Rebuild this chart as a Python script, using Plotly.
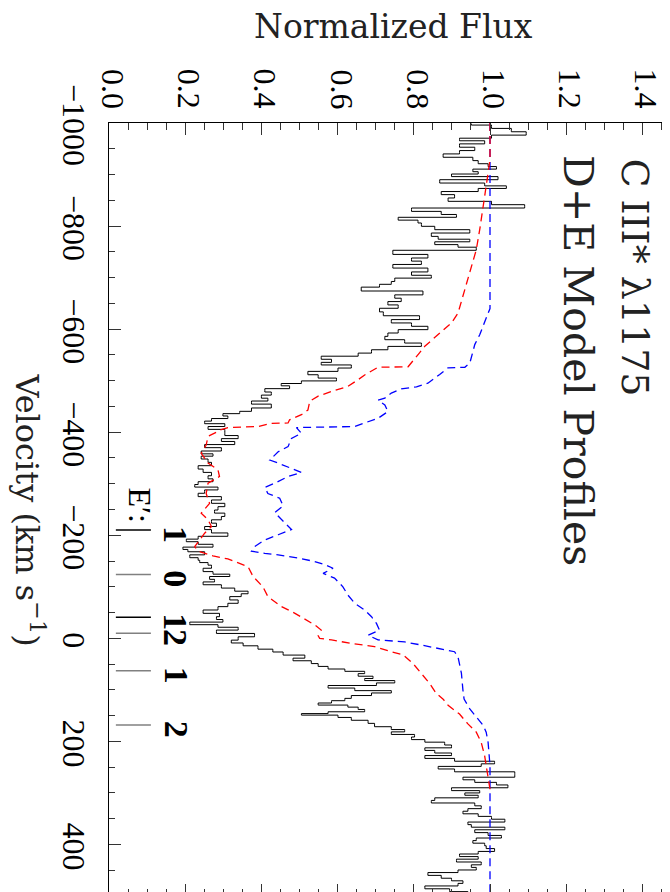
import plotly.graph_objects as go

# ---------------- data ----------------
spec_vel = [-999, -993, -986, -980, -973, -968, -963, -956, -950, -943, -937, -930, -924, -918, -913, -908, -903, -899,
            -893, -887, -880, -876, -870, -864, -858, -851, -845, -838, -832, -825, -820, -814, -809, -803, -796, -790,
            -783, -777, -772, -767, -761, -757, -749, -741, -735, -729, -722, -715, -707, -702, -696, -689, -685, -678,
            -670, -663, -657, -650, -644, -637, -630, -622, -615, -609, -602, -596, -589, -583, -576, -570, -563, -557,
            -550, -545, -538, -533, -528, -521, -515, -508, -502, -497, -492, -488, -481, -475, -469, -463, -458, -451,
            -443, -438, -434, -429, -424, -419, -414, -408, -403, -397, -390, -385, -379, -373, -367, -360, -356, -351,
            -345, -338, -332, -325, -319, -312, -307, -301, -296, -291, -285, -278, -272, -265, -259, -252, -246, -240,
            -233, -227, -220, -214, -208, -201, -195, -190, -185, -180, -174, -171, -165, -159, -154, -149, -145, -139,
            -133, -126, -123, -117, -112, -107, -101, -94, -89, -84, -78, -71, -65, -58, -52, -45, -39, -34, -29, -24,
            -19, -13, -6, 0, 7, 11, 18, 24, 29, 36, 41, 46, 52, 57, 62, 66, 71, 76, 80, 84, 89, 94, 99, 104, 108, 114,
            119, 123, 128, 131, 136, 140, 145, 147, 151, 156, 162, 168, 175, 179, 184, 189, 194, 199, 204, 210, 215,
            220, 225, 230, 236, 241, 246, 251, 256, 262, 267, 272, 277, 282, 287, 293, 298, 302, 307, 312, 317, 322,
            328, 333, 338, 343, 348, 354, 359, 364, 369, 374, 380, 385, 390, 395, 400, 405, 411, 416, 421, 426, 431,
            437, 442, 447, 452, 457, 463, 468, 473, 478, 483, 489, 494, 499]
spec_flux = [0.951, 1.004, 1.056, 1.095, 1.004, 0.920, 0.986, 0.920, 0.960, 0.920, 0.877, 0.955, 0.969, 0.995, 1.017,
             0.955, 0.969, 0.899, 1.021, 0.868, 0.986, 1.043, 0.969, 0.872, 0.907, 0.890, 1.004, 1.091, 0.794, 0.872,
             0.912, 0.759, 0.811, 0.820, 0.855, 0.947, 0.846, 0.864, 0.947, 0.855, 0.916, 0.964, 0.745, 0.837, 0.794,
             0.820, 0.745, 0.837, 0.794, 0.846, 0.750, 0.741, 0.710, 0.662, 0.824, 0.750, 0.767, 0.732, 0.759, 0.710,
             0.720, 0.815, 0.741, 0.794, 0.837, 0.759, 0.732, 0.724, 0.776, 0.820, 0.732, 0.689, 0.654, 0.557, 0.584,
             0.557, 0.636, 0.601, 0.522, 0.549, 0.597, 0.505, 0.452, 0.474, 0.409, 0.426, 0.400, 0.417, 0.374, 0.426,
             0.374, 0.343, 0.299, 0.312, 0.269, 0.251, 0.304, 0.260, 0.304, 0.304, 0.339, 0.295, 0.330, 0.251, 0.295,
             0.242, 0.273, 0.242, 0.260, 0.269, 0.234, 0.247, 0.269, 0.260, 0.273, 0.234, 0.225, 0.286, 0.251, 0.234,
             0.295, 0.269, 0.304, 0.286, 0.277, 0.304, 0.295, 0.269, 0.282, 0.251, 0.269, 0.312, 0.234, 0.203, 0.234,
             0.273, 0.194, 0.207, 0.251, 0.212, 0.234, 0.238, 0.260, 0.269, 0.247, 0.273, 0.317, 0.264, 0.277, 0.247,
             0.295, 0.330, 0.365, 0.347, 0.317, 0.339, 0.312, 0.286, 0.247, 0.290, 0.282, 0.299, 0.212, 0.286, 0.339,
             0.282, 0.382, 0.339, 0.321, 0.352, 0.391, 0.430, 0.457, 0.514, 0.483, 0.531, 0.549, 0.575, 0.619, 0.671,
             0.654, 0.693, 0.671, 0.750, 0.702, 0.575, 0.645, 0.741, 0.689, 0.636, 0.619, 0.584, 0.549, 0.627, 0.654,
             0.671, 0.575, 0.505, 0.601, 0.636, 0.680, 0.697, 0.741, 0.776, 0.741, 0.802, 0.794, 0.829, 0.881, 0.899,
             0.829, 0.855, 0.899, 0.829, 0.907, 1.012, 0.977, 0.864, 0.907, 1.065, 1.065, 0.929, 0.960, 1.017, 1.047,
             0.899, 0.973, 0.934, 0.969, 0.855, 0.846, 0.960, 0.977, 0.942, 0.929, 0.969, 1.004, 1.039, 0.942, 0.951,
             1.039, 0.960, 0.995, 1.030, 0.964, 0.955, 0.986, 0.990, 1.012, 0.969, 0.920, 0.969, 0.912, 0.977, 0.951,
             0.964, 0.916, 0.837, 0.872, 0.899, 0.929, 0.916, 0.829, 0.894, 0.942, 1.004]

red_vel = [-1000, -930, -903, -877, -832, -793, -754, -722, -676, -631, -612, -598, -583, -567, -554, -534, -527, -526,
           -511, -502, -489, -479, -470, -460, -443, -434, -424, -418, -417, -411, -409, -404, -400, -392, -375, -359,
           -340, -327, -314, -301, -281, -262, -246, -243, -230, -217, -204, -191, -178, -169, -160, -154, -146, -139,
           -120, -100, -81, -62, -49, -36, -26, -16, -5, 0, 3, 10, 16, 26, 32, 49, 68, 88, 107, 118, 130, 147, 166,
           182, 202, 228, 247, 273, 293]
red_flux = [1.0, 1.0, 0.995, 0.99, 0.982, 0.973, 0.964, 0.951, 0.934, 0.916, 0.899, 0.877, 0.855, 0.829, 0.815, 0.794,
            0.785, 0.706, 0.671, 0.654, 0.627, 0.584, 0.549, 0.527, 0.522, 0.505, 0.474, 0.470, 0.426, 0.391, 0.312,
            0.290, 0.282, 0.260, 0.255, 0.242, 0.260, 0.286, 0.290, 0.260, 0.255, 0.264, 0.247, 0.242, 0.260, 0.269,
            0.251, 0.238, 0.225, 0.234, 0.273, 0.312, 0.343, 0.365, 0.378, 0.404, 0.417, 0.452, 0.487, 0.518, 0.540,
            0.557, 0.549, 0.553, 0.584, 0.636, 0.697, 0.741, 0.772, 0.798, 0.820, 0.842, 0.859, 0.877, 0.890, 0.920,
            0.942, 0.964, 0.977, 0.986, 0.990, 0.995, 1.0]

blue_vel = [-1000, -640, -631, -589, -570, -547, -534, -526, -525, -512, -495, -488, -484, -476, -466, -462, -453, -440,
            -427, -418, -411, -409, -398, -388, -372, -362, -346, -340, -330, -322, -314, -301, -293, -281, -272, -257,
            -244, -227, -211, -201, -191, -178, -169, -165, -162, -156, -149, -143, -136, -126, -117, -100, -84, -68,
            -55, -42, -29, -16, -6, 3, 7, 13, 23, 26, 36, 68, 101, 118, 137, 156, 169, 182, 202, 247, 500]
blue_flux = [1.0, 1.0, 0.995, 0.973, 0.960, 0.951, 0.947, 0.934, 0.890, 0.868, 0.837, 0.807, 0.767, 0.741, 0.724, 0.706,
             0.724, 0.732, 0.706, 0.671, 0.645, 0.492, 0.505, 0.479, 0.470, 0.444, 0.422, 0.444, 0.479, 0.505, 0.470,
             0.435, 0.409, 0.417, 0.448, 0.457, 0.435, 0.457, 0.479, 0.444, 0.409, 0.382, 0.374, 0.409, 0.444, 0.496,
             0.540, 0.566, 0.588, 0.562, 0.592, 0.614, 0.627, 0.645, 0.671, 0.689, 0.702, 0.710, 0.680, 0.706, 0.776,
             0.820, 0.881, 0.907, 0.916, 0.925, 0.929, 0.932, 0.947, 0.969, 0.982, 0.990, 0.995, 1.0, 1.0]

comp_vel = [-210, -124, -41, -10, 63, 168]
comp_label = ["1", "0", "1", "2", "1", "2"]
comp_color = ["#000000", "#808080", "#000000", "#808080", "#808080", "#808080"]

flux_ticks = [0.0, 0.2, 0.4, 0.6, 0.8, 1.0, 1.2, 1.4]
flux_ticktext = ["0.0", "0.2", "0.4", "0.6", "0.8", "1.0", "1.2", "1.4"]
vel_ticks = [-1000, -800, -600, -400, -200, 0, 200, 400]
vel_ticktext = ["\u22121000", "\u2212800", "\u2212600", "\u2212400", "\u2212200", "0", "200", "400"]

# ---------------- figure ----------------
W, H = 670, 892
L, R, T, B = 101, 0, 115, 4
pw, ph = W - L - R, H - T - B

def px_x(p):
    return (p - L) / pw

def px_y(p):
    return (H - B - p) / ph

fig = go.Figure()
fig.add_trace(go.Scatter(x=spec_flux, y=spec_vel, mode="lines", line=dict(color="black", width=1, shape="vhv"),
                         hoverinfo="skip"))
fig.add_trace(go.Scatter(x=blue_flux, y=blue_vel, mode="lines", line=dict(color="#0000ff", width=1.3, dash="8px,5px"),
                         hoverinfo="skip"))
fig.add_trace(go.Scatter(x=red_flux, y=red_vel, mode="lines", line=dict(color="#ff0000", width=1.3, dash="8px,5px"),
                         hoverinfo="skip"))

serif = "Liberation Serif"
wide = "DejaVu Serif"
annos = []
for v, t in zip(flux_ticks, flux_ticktext):
    annos.append(dict(x=v, y=px_y(81), xref="x", yref="paper", text=t, textangle=90, showarrow=False,
                      xanchor="center", yanchor="middle", xshift=4, font=dict(family=serif, size=32, color="black")))
for v, t in zip(vel_ticks, vel_ticktext):
    annos.append(dict(x=px_x(66), y=v, xref="paper", yref="y", text=t, textangle=90, showarrow=False,
                      xanchor="center", yanchor="middle", yshift=-2, font=dict(family=serif, size=32, color="black")))

annos.append(dict(x=0.5, y=px_y(19), xref="paper", yref="paper", text="Normalized Flux", showarrow=False,
                  xanchor="center", yanchor="middle", font=dict(family=wide, size=33, color="#222")))
annos.append(dict(x=px_x(22), y=0.5, xref="paper", yref="paper", text="Velocity (km s<sup>\u22121</sup>)",
                  textangle=90, showarrow=False, xanchor="center", yanchor="middle",
                  font=dict(family=wide, size=32, color="#222")))
annos.append(dict(x=1.381, y=-700, xref="x", yref="y", text="C III* \u03bb1175", textangle=90, showarrow=False,
                  xanchor="center", yanchor="middle", font=dict(family=wide, size=38, color="#222")))
annos.append(dict(x=1.231, y=-540, xref="x", yref="y", text="D+E Model Profiles", textangle=90, showarrow=False,
                  xanchor="center", yanchor="middle", font=dict(family=wide, size=41, color="#222")))
annos.append(dict(x=0.081, y=-258, xref="x", yref="y", text="E\u2032:", textangle=90, showarrow=False,
                  xanchor="center", yanchor="middle", font=dict(family=serif, size=32, color="black")))

shapes = []
for v, t, c in zip(comp_vel, comp_label, comp_color):
    shapes.append(dict(type="line", x0=0.018, x1=0.110, y0=v, y1=v, xref="x", yref="y",
                       line=dict(color=c, width=1.5)))
    annos.append(dict(x=0.176, y=v, xref="x", yref="y", text=t, textangle=90, showarrow=False,
                      xanchor="center", yanchor="middle", yshift=-4,
                      font=dict(family=serif, size=34, color="black", weight="bold")))

axis_common = dict(showgrid=False, zeroline=False, showline=True, linecolor="black", linewidth=1,
                   mirror="allticks", ticks="inside", ticklen=12, tickcolor="#333", tickwidth=1,
                   showticklabels=False, automargin=False)
fig.update_layout(
    template="none",
    width=W, height=H, margin=dict(l=L, r=R, t=T, b=B, autoexpand=False), paper_bgcolor="white",
    plot_bgcolor="white", showlegend=False, annotations=annos, shapes=shapes,
    xaxis=dict(range=[0, pw / 381.0], tickvals=flux_ticks, side="top",
               minor=dict(ticks="inside", ticklen=7, dtick=0.05, tickcolor="#333", showgrid=False),
               **axis_common),
    yaxis=dict(range=[500, -1000], tickvals=vel_ticks,
               minor=dict(ticks="inside", ticklen=6, dtick=50, tickcolor="#333", showgrid=False),
               **axis_common),
)
fig.write_html("out.html")
